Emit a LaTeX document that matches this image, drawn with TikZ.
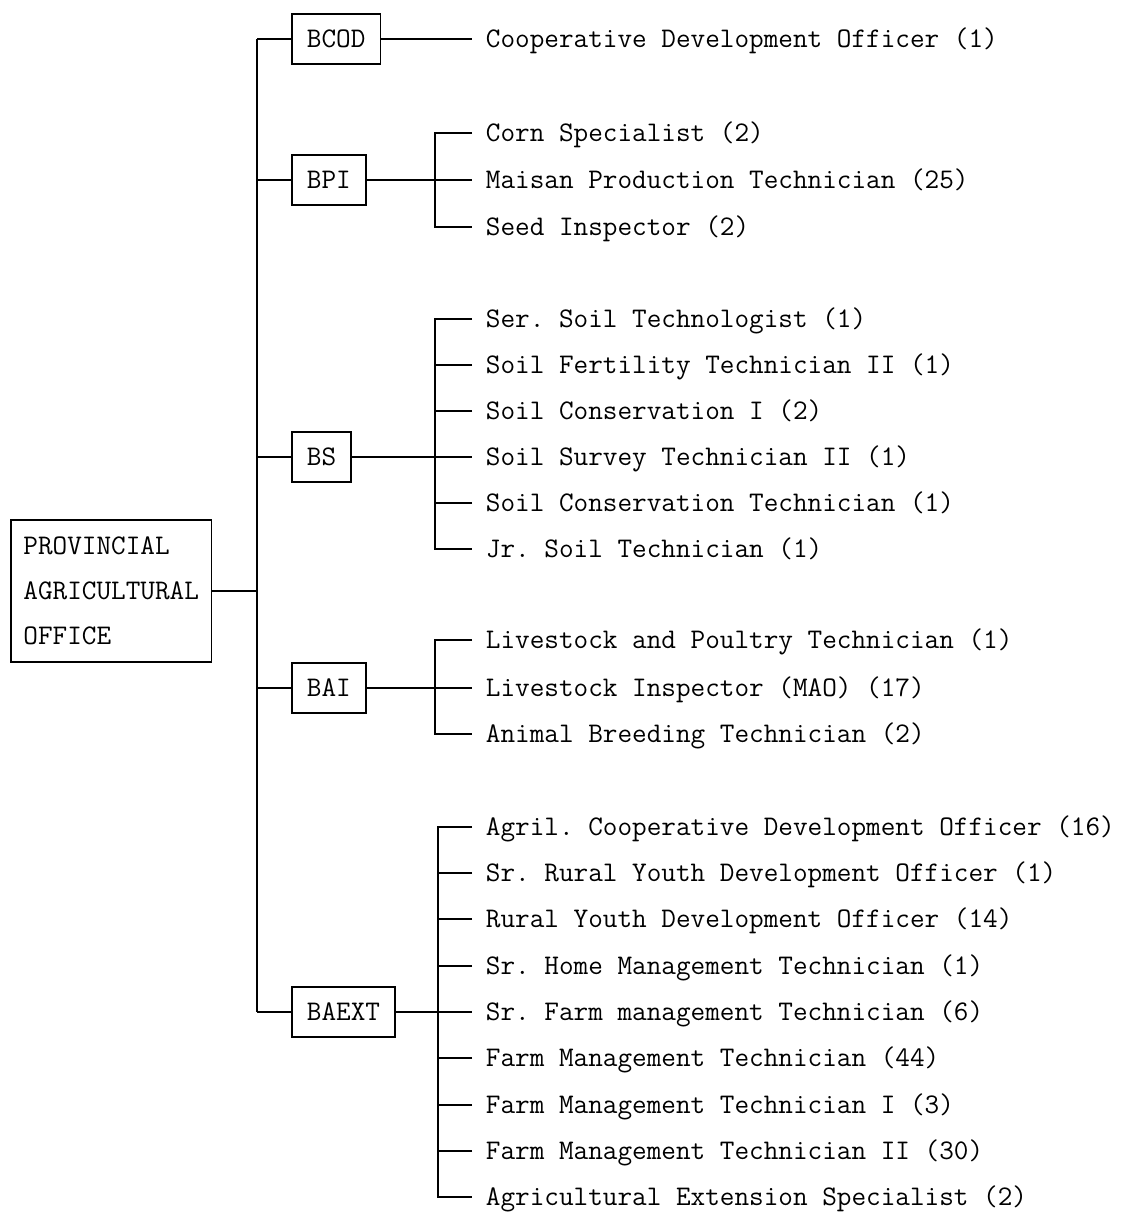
\documentclass[tikz,border=0pt]{standalone}
\usepackage{fontspec}
\frenchspacing
\begin{document}
\frenchspacing
\begin{tikzpicture}[x=1pt,y=-1pt,
  line width=1.8pt,
  every node/.style={font=\ttfamily\fontsize{28.4}{45}\selectfont},
  head/.style={draw, align=left, inner xsep=12.5pt, minimum height=142pt, anchor=west},
  unit/.style={draw, inner xsep=15pt, inner ysep=0pt, minimum height=50pt, anchor=west, text height=17pt, text depth=0pt},
  leaf/.style={anchor=west, inner xsep=13pt, inner ysep=0pt, text height=17pt, text depth=0pt},
]
\useasboundingbox (0,0) rectangle (1129,1213);

% head
\node[head] (pao) at (10,591) {PROVINCIAL\\AGRICULTURAL\\OFFICE};
\coordinate (spTop) at (257,39);
\coordinate (spMid) at (257,591);
\coordinate (spBot) at (257,1012);
\draw (spTop) -- (spBot);
\draw (pao.east) -- (spMid);

% BCOD
\node[unit] (bcod) at (291,39) {BCOD};
\node[leaf] (cdo) at (472,39) {Cooperative Development Officer (1)};
\draw (spTop) -- (bcod.west);
\draw (bcod.east) -- (cdo.west);

% BPI
\node[unit] (bpi) at (291,180) {BPI};
\coordinate (spBPI) at (257,180);
\draw (spBPI) -- (bpi.west);
\coordinate (jBPI) at (435,180);
\node[leaf] (p1) at (472,133) {Corn Specialist (2)};
\node[leaf] (p2) at (472,180) {Maisan Production Technician (25)};
\node[leaf] (p3) at (472,227) {Seed Inspector (2)};
\draw (p1.west) -| (jBPI) |- (p3.west);
\draw (bpi.east) -- (p2.west);

% BS
\node[unit] (bs) at (291,457) {BS};
\coordinate (spBS) at (257,457);
\draw (spBS) -- (bs.west);
\coordinate (jBS) at (435,457);
\node[leaf] (s1) at (472,319) {Ser. Soil Technologist (1)};
\node[leaf] (s2) at (472,365) {Soil Fertility Technician II (1)};
\node[leaf] (s3) at (472,411) {Soil Conservation I (2)};
\node[leaf] (s4) at (472,457) {Soil Survey Technician II (1)};
\node[leaf] (s5) at (472,503) {Soil Conservation Technician (1)};
\node[leaf] (s6) at (472,549) {Jr. Soil Technician (1)};
\draw (s1.west) -| (jBS) |- (s6.west);
\draw (bs.east) -- (s4.west);
\foreach \n in {s2,s3,s5} \draw (\n.west) -- (\n.west -| jBS);

% BAI
\node[unit] (bai) at (291,688) {BAI};
\coordinate (spBAI) at (257,688);
\draw (spBAI) -- (bai.west);
\coordinate (jBAI) at (435,688);
\node[leaf] (a1) at (472,640) {Livestock and Poultry Technician (1)};
\node[leaf] (a2) at (472,688) {Livestock Inspector (MAO) (17)};
\node[leaf] (a3) at (472,734) {Animal Breeding Technician (2)};
\draw (a1.west) -| (jBAI) |- (a3.west);
\draw (bai.east) -- (a2.west);

% BAEXT
\node[unit] (baext) at (291,1012) {BAEXT};
\draw (spBot) -- (baext.west);
\coordinate (jBX) at (438,1012);
\node[leaf] (e1) at (472,827) {Agril. Cooperative Development Officer (16)};
\node[leaf] (e2) at (472,873) {Sr. Rural Youth Development Officer (1)};
\node[leaf] (e3) at (472,919) {Rural Youth Development Officer (14)};
\node[leaf] (e4) at (472,966) {Sr. Home Management Technician (1)};
\node[leaf] (e5) at (472,1012) {Sr. Farm management Technician (6)};
\node[leaf] (e6) at (472,1058) {Farm Management Technician (44)};
\node[leaf] (e7) at (472,1105) {Farm Management Technician I (3)};
\node[leaf] (e8) at (472,1151) {Farm Management Technician II (30)};
\node[leaf] (e9) at (472,1197) {Agricultural Extension Specialist (2)};
\draw (e1.west) -| (jBX) |- (e9.west);
\draw (baext.east) -- (e5.west);
\foreach \n in {e2,e3,e4,e6,e7,e8} \draw (\n.west) -- (\n.west -| jBX);
\end{tikzpicture}
\end{document}
